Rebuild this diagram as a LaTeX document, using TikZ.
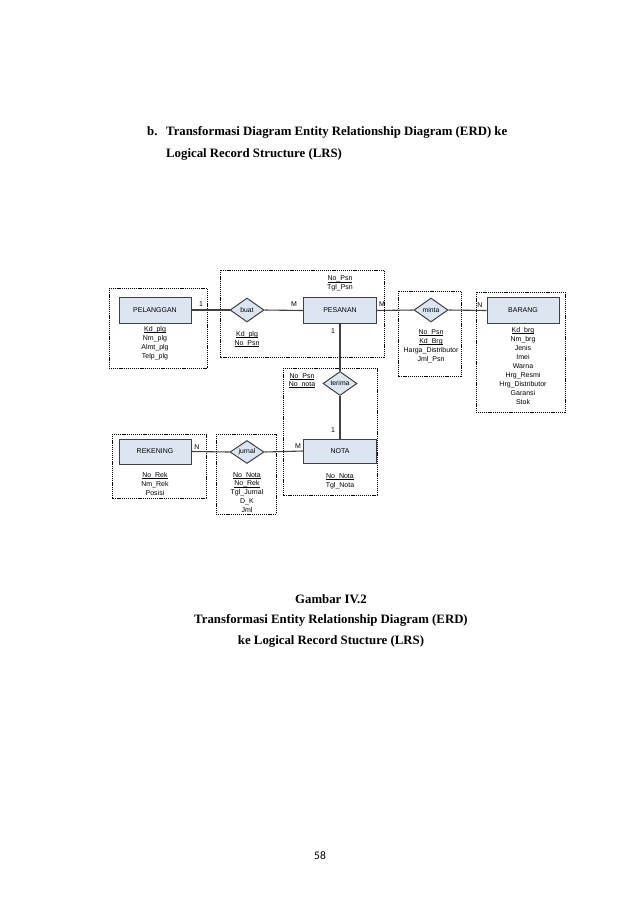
\documentclass[tikz,border=0pt]{standalone}
\usepackage{fontspec}
\setmainfont{Liberation Serif}
\newfontfamily\erdfont{Liberation Sans}
\newfontfamily\pgfont{Carlito}
\usetikzlibrary{shapes.geometric}
\definecolor{entfill}{HTML}{DCE6F2}
\definecolor{lncol}{HTML}{404040}
\newcommand\ukey[1]{\underline{\raisebox{0pt}[\height][0pt]{#1}}}
\tikzset{
  grp/.style={draw=black, line width=0.6pt, dash pattern=on 1.2pt off 0.9pt},
  ent/.style={draw=lncol, fill=entfill, line width=1pt, minimum width=72pt, minimum height=26pt, inner sep=0pt, font=\erdfont\fontsize{7}{9}\selectfont},
  rel/.style={diamond, draw=lncol, fill=entfill, line width=1pt, minimum width=34pt, minimum height=24pt, inner sep=0pt, font=\erdfont\fontsize{6.8}{9}\selectfont},
  attr/.style={anchor=north, inner sep=0pt, align=center, font=\erdfont\fontsize{7}{9}\selectfont},
  card/.style={inner sep=0pt, font=\erdfont\fontsize{7}{9}\selectfont},
  conn/.style={draw=lncol, line width=1.1pt},
  ttl/.style={inner sep=0pt, font=\bfseries\fontsize{12.8}{15}\selectfont},
}
\begin{document}
\begin{tikzpicture}[x=1pt, y=-1pt]
\useasboundingbox (0,0) rectangle (638,903);
% titles
\node[ttl, anchor=base west] (tb) at (147,135) {b.};
\node[ttl, anchor=base west] (t1) at (166,135) {Transformasi Diagram Entity Relationship Diagram (ERD) ke};
\node[ttl, anchor=base west] (t2) at (166,157) {Logical Record Structure (LRS)};
% group boxes
\draw[grp] (109,288) rectangle (207,368);
\draw[grp] (220,270) rectangle (384,357);
\draw[grp] (398,291) rectangle (461,376);
\draw[grp] (476,292) rectangle (565,412);
\draw[grp] (283,368) rectangle (377,495);
\draw[grp] (112,434) rectangle (206,498);
\draw[grp] (216,434) rectangle (276,514);
% entities
\node[ent] (pel) at (155,310) {PELANGGAN};
\node[ent, minimum width=73pt] (psn) at (340,310.5) {PESANAN};
\node[ent] (brg) at (523,310.5) {BARANG};
\node[ent, minimum height=25pt] (rek) at (155,451.5) {REKENING};
\node[ent, minimum width=73pt, minimum height=24pt] (nota) at (340,451) {NOTA};
% relationships
\node[rel] (buat) at (247,310) {buat};
\node[rel] (minta) at (431,310) {minta};
\node[rel] (terima) at (340,383.5) {terima};
\node[rel, minimum height=22pt] (jurnal) at (247,452) {jurnal};
% connectors
\draw[conn] (pel.east) -- (buat.west);
\draw[conn] (buat.east) -- (psn.west);
\draw[conn] (psn.east) -- (minta.west);
\draw[conn] (minta.east) -- (brg.west);
\draw[conn] (psn.south) -- (terima.north);
\draw[conn] (terima.south) -- (nota.north);
\draw[conn] (rek.east) -- (jurnal.west);
\draw[conn] (jurnal.east) -- (nota.west);
% cardinalities
\node[card] (c1) at (201,304) {1};
\node[card] (c2) at (294,304) {M};
\node[card] (c3) at (382,304) {M};
\node[card] (c4) at (480,305) {N};
\node[card] (c5) at (333,331) {1};
\node[card] (c6) at (333,430) {1};
\node[card] (c7) at (197,447) {N};
\node[card] (c8) at (298,446) {M};
% attributes
\node[attr] (apel) at (155,326) {\ukey{Kd\_plg}\\Nm\_plg\\Almt\_plg\\Telp\_plg};
\node[attr] (abuat) at (247,331) {\ukey{Kd\_plg}\\\ukey{No\_Psn}};
\node[attr] (apsn) at (340,275.5) {\ukey{No\_Psn}\\Tgl\_Psn};
\node[attr] (aminta) at (431,329) {\ukey{No\_Psn}\\\ukey{Kd\_Brg}\\Harga\_Distributor\\Jml\_Psn};
\node[attr] (abrg) at (523,327) {\ukey{Kd\_brg}\\Nm\_brg\\Jenis\\Imei\\Warna\\Hrg\_Resmi\\Hrg\_Distributor\\Garansi\\Stok};
\node[attr, font=\erdfont\fontsize{7}{8.2}\selectfont] (aterima) at (302,373) {\ukey{No\_Psn}\\\ukey{No\_nota}};
\node[attr] (anota) at (340,473) {\ukey{No\_Nota}\\Tgl\_Nota};
\node[attr] (arek) at (155,472) {\ukey{No\_Rek}\\Nm\_Rek\\Posisi};
\node[attr, font=\erdfont\fontsize{7}{8.8}\selectfont] (ajur) at (247,472) {\ukey{No\_Nota}\\\ukey{No\_Rek}\\Tgl\_Jurnal\\D\_K\\Jml};
% caption
\node[ttl, anchor=base] (g1) at (331,603) {Gambar IV.2};
\node[ttl, anchor=base] (g2) at (331,623) {Transformasi Entity Relationship Diagram (ERD)};
\node[ttl, anchor=base] (g3) at (331,644) {ke Logical Record Stucture (LRS)};
% page number
\node[inner sep=0pt, anchor=base, font=\pgfont\fontsize{11.5}{13}\selectfont] (pg) at (320,859) {58};
\end{tikzpicture}
\end{document}
